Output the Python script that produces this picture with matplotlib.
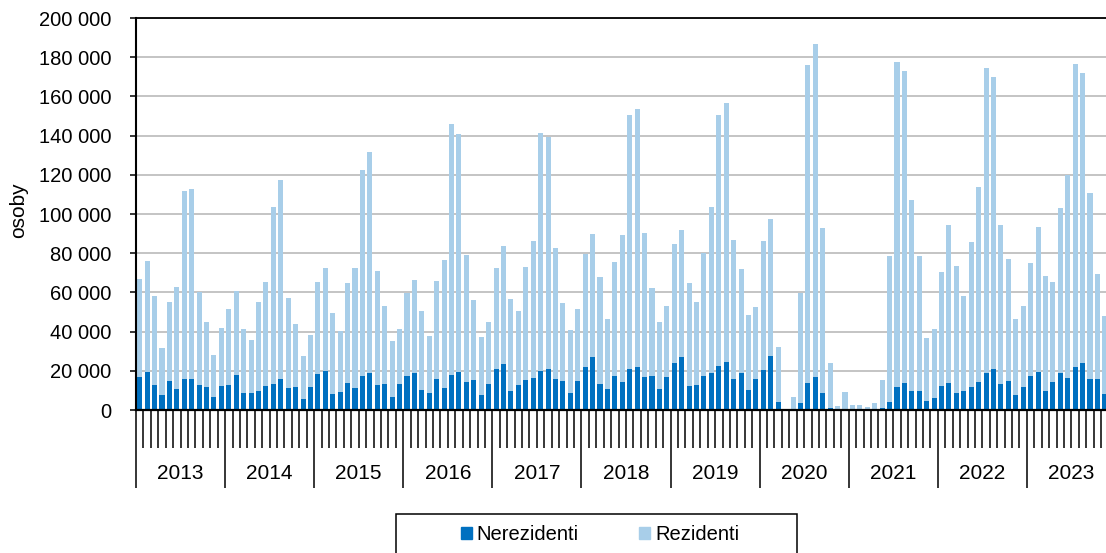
import matplotlib
matplotlib.use('Agg')
import matplotlib.pyplot as plt
import matplotlib.patches as mpatches
from matplotlib.ticker import FixedLocator, FuncFormatter, MultipleLocator

plt.rcParams['font.family'] = ['Liberation Sans', 'DejaVu Sans']

years = [2013, 2014, 2015, 2016, 2017, 2018, 2019, 2020, 2021, 2022, 2023]

# monthly values, one row per year (Jan..Dec)
nerezidenti = [
    16700, 19200, 12600, 7800, 14600, 10700, 16000, 15600, 12600, 11700, 6800, 12100,
    12600, 17700, 8700, 8700, 9500, 12100, 13100, 16000, 11400, 11900, 5600, 11900,
    18200, 19800, 8000, 9400, 13800, 11100, 17200, 18800, 13000, 13100, 6600, 13100,
    17200, 19100, 10200, 8500, 15600, 11100, 17900, 19200, 14100, 15300, 7500, 13100,
    20900, 23500, 9500, 12600, 15300, 16500, 19900, 20900, 15600, 14600, 8700, 14600,
    21800, 26900, 13100, 10700, 17400, 14100, 20800, 21800, 16700, 17200, 10500, 16700,
    23800, 27000, 12200, 12600, 17400, 18700, 22300, 24700, 15600, 18700, 10000, 16000,
    20600, 27700, 3900, 100, 300, 3600, 13600, 16900, 8900, 1000, 100, 300,
    200, 200, 100, 300, 900, 4300, 11600, 13600, 9500, 9700, 4400, 6300,
    12100, 13600, 8500, 9500, 11600, 14100, 18700, 20800, 13300, 14600, 7500, 11600,
    17200, 19400, 9500, 14100, 18700, 16500, 21800, 23800, 15600, 15600, 8000, 12000,
]

rezidenti = [
    50300, 57000, 45700, 24000, 40500, 51900, 95600, 97000, 47600, 33200, 21100, 29600,
    38800, 43200, 32800, 26900, 45400, 53200, 90700, 101200, 45800, 31800, 22000, 26500,
    47100, 52700, 41300, 30700, 51200, 61200, 105200, 112800, 57800, 40100, 28500, 28200,
    42700, 47200, 40500, 29300, 50100, 65400, 128100, 121600, 65200, 40800, 29600, 32000,
    51600, 60400, 47100, 37900, 57500, 69700, 121600, 118600, 67200, 40000, 32300, 36800,
    58000, 62700, 54900, 35900, 58100, 75000, 129600, 131800, 73500, 44900, 34600, 36200,
    60700, 65000, 52800, 42300, 62900, 85100, 128100, 132000, 71000, 53100, 38300, 36400,
    65500, 69600, 28100, 100, 6500, 56100, 162600, 169700, 84100, 22800, 1700, 9000,
    2300, 2300, 1500, 3300, 14600, 74100, 165800, 159600, 97800, 68700, 32500, 35200,
    58500, 80800, 64800, 48500, 74000, 99500, 155700, 149000, 81100, 62600, 39100, 41300,
    57600, 73800, 59100, 51400, 84200, 103300, 154900, 148000, 95000, 53600, 40100, 40000,
]

DARK = '#0070C0'
LIGHT = '#A8CEE9'


def main():
    fig = plt.figure(figsize=(11.06, 5.53), dpi=100)
    # plot area runs past the right edge of the picture, as in the original
    ax = fig.add_axes([136 / 1106, 143 / 553, 980 / 1106, 392 / 553])

    x = list(range(len(nerezidenti)))
    ax.bar(x, nerezidenti, width=0.68, color=DARK, zorder=2)
    ax.bar(x, rezidenti, width=0.68, bottom=nerezidenti, color=LIGHT, zorder=2)

    ax.set_xlim(-0.5, len(x) - 0.5)
    ax.set_ylim(0, 200000)

    # y axis
    ax.yaxis.set_major_locator(MultipleLocator(20000))
    ax.yaxis.set_major_formatter(FuncFormatter(lambda v, p: f'{int(v):,}'.replace(',', ' ')))
    ax.yaxis.grid(True, color='#BFBFBF', linewidth=1.3)
    ax.set_axisbelow(True)
    ax.tick_params(axis='y', length=4.5, width=1.1, pad=13, labelsize=14.5)

    # x axis: short ticks between months, long ticks between years
    year_edges = [i * 12 - 0.5 for i in range(len(years) + 1)]
    month_edges = [i - 0.5 for i in range(len(x) + 1) if i % 12 != 0]
    ax.xaxis.set_major_locator(FixedLocator(year_edges))
    ax.xaxis.set_minor_locator(FixedLocator(month_edges))
    ax.tick_params(axis='x', which='major', length=56, width=1.1, labelbottom=False)
    ax.tick_params(axis='x', which='minor', length=27.5, width=1.1)
    for i, year in enumerate(years):
        ax.text(i * 12 + 5.5, -0.163, str(year), transform=ax.get_xaxis_transform(),
                ha='center', va='center', fontsize=15)

    for side in ['left', 'bottom', 'top']:
        ax.spines[side].set_color('black')
    ax.spines['left'].set_linewidth(1.5)
    ax.spines['bottom'].set_linewidth(1.6)
    ax.spines['top'].set_linewidth(1.3)

    fig.text(19 / 1106, 1 - 210 / 553, 'osoby', rotation=90, ha='center', va='center', fontsize=15)

    # legend (its frame is cut by the bottom edge)
    handles = [mpatches.Patch(color=DARK, label='Nerezidenti'),
               mpatches.Patch(color=LIGHT, label='Rezidenti')]
    fig.legend(handles=handles, loc='center', bbox_to_anchor=(600 / 1106, 1 - 535 / 553),
               ncol=2, frameon=False, fontsize=14.5, handlelength=0.55, handleheight=0.55,
               handletextpad=0.25, columnspacing=3.0)
    fig.add_artist(mpatches.Rectangle((396 / 1106, -0.05), 401 / 1106, 0.05 + 39 / 553,
                                      transform=fig.transFigure, fill=False,
                                      edgecolor='black', linewidth=1.1))

    fig.savefig('out.png', dpi=100)


if __name__ == '__main__':
    main()
